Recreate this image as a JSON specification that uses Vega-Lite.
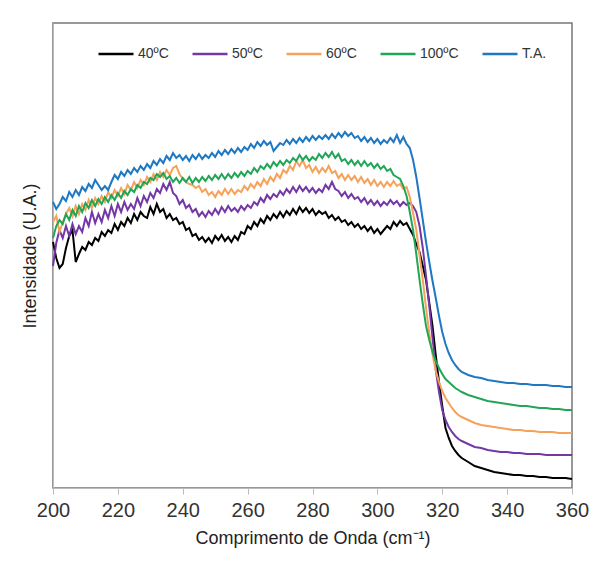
{
"$schema": "https://vega.github.io/schema/vega-lite/v6.json",
"width": 519, "height": 465,
"autosize": "none",
"padding": {"left": 53, "top": 23, "right": 28, "bottom": 78},
"background": "white",
"config": {"view": {"stroke": "#777", "strokeWidth": 1.5}, "font": "Liberation Sans"},
"data": {"values": [
{"x":200,"k":246,"p":222,"o":266,"g":250,"b":286},
{"x":201,"k":230,"p":245,"o":272,"g":262,"b":279},
{"x":202,"k":220,"p":258,"o":256,"g":268,"b":284},
{"x":203,"k":224,"p":250,"o":266,"g":264,"b":291},
{"x":204,"k":240,"p":262,"o":274,"g":274,"b":287},
{"x":205,"k":252,"p":252,"o":280,"g":268,"b":296},
{"x":206,"k":258,"p":264,"o":272,"g":278,"b":291},
{"x":207,"k":226,"p":254,"o":282,"g":272,"b":298},
{"x":208,"k":234,"p":262,"o":274,"g":282,"b":293},
{"x":209,"k":241,"p":256,"o":284,"g":276,"b":301},
{"x":210,"k":238,"p":270,"o":278,"g":285,"b":297},
{"x":211,"k":246,"p":262,"o":288,"g":280,"b":304},
{"x":212,"k":243,"p":276,"o":280,"g":288,"b":300},
{"x":213,"k":250,"p":265,"o":290,"g":282,"b":308},
{"x":214,"k":247,"p":274,"o":284,"g":289,"b":303},
{"x":215,"k":256,"p":266,"o":292,"g":284,"b":298},
{"x":216,"k":252,"p":278,"o":286,"g":291,"b":302},
{"x":217,"k":258,"p":270,"o":296,"g":286,"b":298},
{"x":218,"k":255,"p":282,"o":290,"g":293,"b":306},
{"x":219,"k":264,"p":272,"o":298,"g":288,"b":313},
{"x":220,"k":258,"p":284,"o":292,"g":295,"b":309},
{"x":221,"k":266,"p":276,"o":300,"g":290,"b":316},
{"x":222,"k":262,"p":286,"o":294,"g":297,"b":312},
{"x":223,"k":270,"p":278,"o":303,"g":293,"b":318},
{"x":224,"k":265,"p":284,"o":298,"g":299,"b":314},
{"x":225,"k":274,"p":279,"o":306,"g":296,"b":320},
{"x":226,"k":268,"p":290,"o":300,"g":303,"b":316},
{"x":227,"k":276,"p":282,"o":308,"g":300,"b":322},
{"x":228,"k":272,"p":292,"o":303,"g":306,"b":318},
{"x":229,"k":270,"p":286,"o":311,"g":304,"b":324},
{"x":230,"k":281,"p":295,"o":306,"g":310,"b":320},
{"x":231,"k":274,"p":290,"o":314,"g":308,"b":327},
{"x":232,"k":284,"p":299,"o":308,"g":314,"b":323},
{"x":233,"k":276,"p":295,"o":316,"g":311,"b":329},
{"x":234,"k":279,"p":304,"o":311,"g":315,"b":325},
{"x":235,"k":270,"p":298,"o":318,"g":309,"b":332},
{"x":236,"k":274,"p":306,"o":313,"g":312,"b":328},
{"x":237,"k":268,"p":295,"o":320,"g":306,"b":335},
{"x":238,"k":270,"p":292,"o":322,"g":310,"b":330},
{"x":239,"k":264,"p":284,"o":314,"g":305,"b":333},
{"x":240,"k":266,"p":288,"o":309,"g":310,"b":328},
{"x":241,"k":258,"p":280,"o":306,"g":306,"b":332},
{"x":242,"k":260,"p":283,"o":304,"g":311,"b":327},
{"x":243,"k":252,"p":276,"o":303,"g":305,"b":333},
{"x":244,"k":254,"p":279,"o":300,"g":310,"b":329},
{"x":245,"k":248,"p":272,"o":302,"g":306,"b":334},
{"x":246,"k":251,"p":276,"o":296,"g":311,"b":329},
{"x":247,"k":246,"p":271,"o":299,"g":307,"b":333},
{"x":248,"k":250,"p":277,"o":293,"g":312,"b":330},
{"x":249,"k":245,"p":273,"o":296,"g":308,"b":335},
{"x":250,"k":252,"p":279,"o":291,"g":313,"b":331},
{"x":251,"k":248,"p":274,"o":297,"g":309,"b":337},
{"x":252,"k":253,"p":281,"o":293,"g":314,"b":333},
{"x":253,"k":247,"p":276,"o":299,"g":309,"b":338},
{"x":254,"k":251,"p":282,"o":294,"g":314,"b":334},
{"x":255,"k":246,"p":277,"o":299,"g":310,"b":339},
{"x":256,"k":252,"p":280,"o":294,"g":315,"b":335},
{"x":257,"k":248,"p":276,"o":298,"g":311,"b":340},
{"x":258,"k":256,"p":282,"o":296,"g":316,"b":336},
{"x":259,"k":254,"p":278,"o":302,"g":312,"b":341},
{"x":260,"k":262,"p":283,"o":298,"g":317,"b":338},
{"x":261,"k":259,"p":280,"o":304,"g":314,"b":344},
{"x":262,"k":266,"p":286,"o":300,"g":320,"b":340},
{"x":263,"k":262,"p":283,"o":306,"g":316,"b":346},
{"x":264,"k":269,"p":290,"o":302,"g":322,"b":342},
{"x":265,"k":265,"p":286,"o":309,"g":319,"b":347},
{"x":266,"k":272,"p":293,"o":304,"g":324,"b":343},
{"x":267,"k":268,"p":289,"o":311,"g":320,"b":346},
{"x":268,"k":274,"p":294,"o":307,"g":326,"b":337},
{"x":269,"k":270,"p":291,"o":314,"g":322,"b":341},
{"x":270,"k":276,"p":297,"o":310,"g":327,"b":345},
{"x":271,"k":271,"p":293,"o":318,"g":323,"b":343},
{"x":272,"k":277,"p":299,"o":315,"g":328,"b":348},
{"x":273,"k":273,"p":295,"o":322,"g":325,"b":344},
{"x":274,"k":279,"p":301,"o":318,"g":330,"b":349},
{"x":275,"k":274,"p":296,"o":327,"g":327,"b":345},
{"x":276,"k":281,"p":302,"o":322,"g":333,"b":350},
{"x":277,"k":276,"p":297,"o":328,"g":328,"b":346},
{"x":278,"k":280,"p":301,"o":320,"g":332,"b":351},
{"x":279,"k":275,"p":296,"o":323,"g":327,"b":347},
{"x":280,"k":279,"p":300,"o":316,"g":331,"b":352},
{"x":281,"k":273,"p":295,"o":321,"g":328,"b":348},
{"x":282,"k":277,"p":299,"o":315,"g":334,"b":352},
{"x":283,"k":274,"p":296,"o":320,"g":330,"b":349},
{"x":284,"k":276,"p":303,"o":316,"g":335,"b":353},
{"x":285,"k":270,"p":299,"o":322,"g":331,"b":349},
{"x":286,"k":273,"p":306,"o":315,"g":336,"b":354},
{"x":287,"k":268,"p":299,"o":317,"g":330,"b":350},
{"x":288,"k":271,"p":297,"o":310,"g":334,"b":355},
{"x":289,"k":266,"p":292,"o":314,"g":327,"b":351},
{"x":290,"k":268,"p":296,"o":308,"g":329,"b":356},
{"x":291,"k":263,"p":290,"o":313,"g":324,"b":352},
{"x":292,"k":266,"p":294,"o":308,"g":328,"b":355},
{"x":293,"k":261,"p":289,"o":312,"g":323,"b":350},
{"x":294,"k":264,"p":291,"o":306,"g":327,"b":352},
{"x":295,"k":259,"p":286,"o":311,"g":322,"b":347},
{"x":296,"k":262,"p":290,"o":305,"g":327,"b":351},
{"x":297,"k":257,"p":284,"o":309,"g":322,"b":346},
{"x":298,"k":261,"p":288,"o":303,"g":325,"b":350},
{"x":299,"k":255,"p":283,"o":308,"g":320,"b":345},
{"x":300,"k":259,"p":287,"o":302,"g":324,"b":349},
{"x":301,"k":254,"p":282,"o":306,"g":319,"b":344},
{"x":302,"k":258,"p":286,"o":301,"g":322,"b":348},
{"x":303,"k":262,"p":283,"o":306,"g":317,"b":345},
{"x":304,"k":259,"p":288,"o":302,"g":319,"b":350},
{"x":305,"k":266,"p":284,"o":307,"g":313,"b":346},
{"x":306,"k":262,"p":287,"o":302,"g":311,"b":353},
{"x":307,"k":267,"p":282,"o":304,"g":309,"b":345},
{"x":308,"k":263,"p":286,"o":299,"g":302,"b":351},
{"x":309,"k":265,"p":283,"o":301,"g":292,"b":344},
{"x":310,"k":259,"p":285,"o":291,"g":276,"b":340},
{"x":311,"k":253,"p":282,"o":275,"g":258,"b":328},
{"x":312,"k":244,"p":276,"o":258,"g":234,"b":311},
{"x":313,"k":236,"p":262,"o":233,"g":208,"b":290},
{"x":314,"k":222,"p":240,"o":208,"g":184,"b":268},
{"x":315,"k":208,"p":212,"o":180,"g":162,"b":246},
{"x":316,"k":185,"p":182,"o":155,"g":148,"b":226},
{"x":317,"k":162,"p":150,"o":134,"g":136,"b":207},
{"x":318,"k":133,"p":118,"o":117,"g":127,"b":190},
{"x":319,"k":106,"p":96,"o":106,"g":120,"b":172},
{"x":320,"k":82,"p":78,"o":97,"g":114,"b":156},
{"x":321,"k":60,"p":68,"o":90,"g":109,"b":144},
{"x":322,"k":50,"p":61,"o":85,"g":106,"b":135},
{"x":323,"k":42,"p":56,"o":80,"g":103,"b":128},
{"x":324,"k":37,"p":52,"o":76,"g":100,"b":123},
{"x":325,"k":33,"p":49,"o":73,"g":98,"b":119},
{"x":326,"k":30,"p":47,"o":71,"g":96,"b":116},
{"x":328,"k":26,"p":44,"o":68,"g":93,"b":113},
{"x":330,"k":22,"p":41,"o":65,"g":91,"b":111},
{"x":332,"k":20,"p":40,"o":63,"g":89,"b":110},
{"x":334,"k":18,"p":38,"o":62,"g":87,"b":108},
{"x":336,"k":16,"p":37,"o":61,"g":86,"b":107},
{"x":338,"k":15,"p":36,"o":60,"g":85,"b":106},
{"x":340,"k":14,"p":36,"o":59,"g":84,"b":105},
{"x":342,"k":13,"p":35,"o":58,"g":83,"b":105},
{"x":344,"k":13,"p":35,"o":58,"g":82,"b":104},
{"x":346,"k":12,"p":34,"o":57,"g":82,"b":104},
{"x":348,"k":12,"p":34,"o":57,"g":81,"b":103},
{"x":350,"k":11,"p":34,"o":56,"g":80,"b":103},
{"x":352,"k":11,"p":33,"o":56,"g":80,"b":103},
{"x":354,"k":10,"p":33,"o":56,"g":79,"b":102},
{"x":356,"k":10,"p":33,"o":55,"g":79,"b":102},
{"x":358,"k":10,"p":33,"o":55,"g":78,"b":101},
{"x":360,"k":9,"p":33,"o":55,"g":78,"b":101}
]},
"transform": [{"fold": ["k","p","o","g","b"], "as": ["s","v"]}],
"mark": {"type": "line", "strokeWidth": 2},
"encoding": {
  "x": {"field": "x", "type": "quantitative",
    "scale": {"domain": [200, 360], "nice": false},
    "axis": {"values": [200,220,240,260,280,300,320,340,360], "grid": false,
      "title": "Comprimento de Onda (cm⁻¹)", "labelFontSize": 20, "titleFontSize": 18,
      "titleFontWeight": "normal", "domainColor": "#bbb", "tickColor": "#bbb", "tickSize": 6,
      "labelPadding": 6, "titlePadding": 9, "labelColor": "#333", "titleColor": "#222", "labelFlush": false}},
  "y": {"field": "v", "type": "quantitative",
    "scale": {"domain": [0, 465], "nice": false, "zero": false},
    "axis": {"labels": false, "ticks": false, "grid": false, "title": "Intensidade (U.A.)",
      "titleFontSize": 18, "titleFontWeight": "normal", "titlePadding": 14, "titleColor": "#222", "domainColor": "#bbb"}},
  "color": {"field": "s", "type": "nominal",
    "scale": {"domain": ["k","p","o","g","b"], "range": ["#000000","#7438A6","#F5A25A","#22A556","#1E78C2"]},
    "legend": {"orient": "none", "legendX": 44, "legendY": 12, "direction": "horizontal", "title": null,
      "symbolType": "stroke", "symbolSize": 1225, "symbolStrokeWidth": 2.5, "labelFontSize": 14,
      "labelColor": "#333", "labelOffset": 3, "columnPadding": 18,
      "labelExpr": "{'k':'40ºC','p':'50ºC','o':'60ºC','g':'100ºC','b':'T.A.'}[datum.label]"}}
}
}
